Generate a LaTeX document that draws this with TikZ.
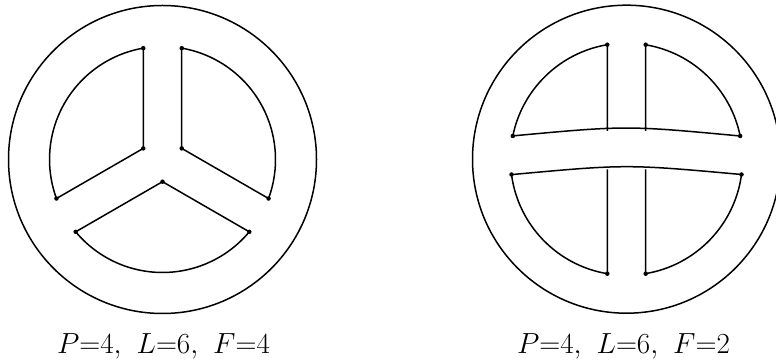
\documentclass[tikz,border=0pt]{standalone}
\tikzset{
  rim/.style  = {line width=1.5pt},
  edge/.style = {line width=1.5pt, line join=round},
  vtx/.style  = {circle, fill=black, inner sep=0pt, minimum size=4.5pt},
  lbl/.style  = {font=\Huge, anchor=base},
}
\newcommand{\capt}[1]{\scalebox{1.17}{$#1$}}
\newcommand{\gap}{\hspace{0.35em}}
\begin{document}
\begin{tikzpicture}[x=1pt,y=1pt]
\useasboundingbox (0,0) rectangle (776,363);

% -- left: ring with three spokes ---------------------------------------------
\begin{scope}[shift={(162.5,203.5)}]
\def\r{113}   % inner radius
\def\h{50.2}  % half opening of a sector
\def\c{22.2}  % distance of the inner corner
\draw[rim] (0,0) circle[radius=154];
\foreach \a in {30,150,270}{
  \draw[edge] ({\a-\h}:\r) arc[start angle={\a-\h}, end angle={\a+\h}, radius=\r]
    -- (\a:\c) -- cycle;
  \node[vtx] (l\a a) at ({\a-\h}:\r) {};
  \node[vtx] (l\a b) at ({\a+\h}:\r) {};
  \node[vtx] (l\a c) at (\a:\c) {};
}
\end{scope}

% -- right: ring with a cross ------------------------------------------------
\begin{scope}[shift={(626.5,203.8)}]
\def\r{116}
\draw[rim] (0,0) circle[radius=154];
% upper half
\draw[edge] (-19.2,28.35) -- (-19.2,114.5)
  arc[start angle=99.52, end angle=168.46, radius=\r]
  .. controls (0,33.8) .. (113.66,23.2)
  arc[start angle=11.54, end angle=80.48, radius=\r] -- (19.2,28.35);
% lower half
\draw[edge] (-19.2,-10.25) -- (-19.2,-114.5)
  arc[start angle=260.48, end angle=187.58, radius=\r]
  .. controls (0,-4.9) .. (115.0,-15.3)
  arc[start angle=-7.58, end angle=-80.48, radius=\r] -- (19.2,-10.25);
\foreach \p/\q [count=\i] in {-19.2/114.5, 19.2/114.5, -113.66/23.2, 113.66/23.2,
                               -115.0/-15.3, 115.0/-15.3, -19.2/-114.5, 19.2/-114.5}{
  \node[vtx] (r\i) at (\p,\q) {};
}
\end{scope}

% -- captions ----------------------------------------------------------------
\node[lbl] (capl) at (163.5,9.7) {\capt{P{=}4,\gap L{=}6,\gap F{=}4}};
\node[lbl] (capr) at (623.5,9.7) {\capt{P{=}4,\gap L{=}6,\gap F{=}2}};

\end{tikzpicture}
\end{document}
